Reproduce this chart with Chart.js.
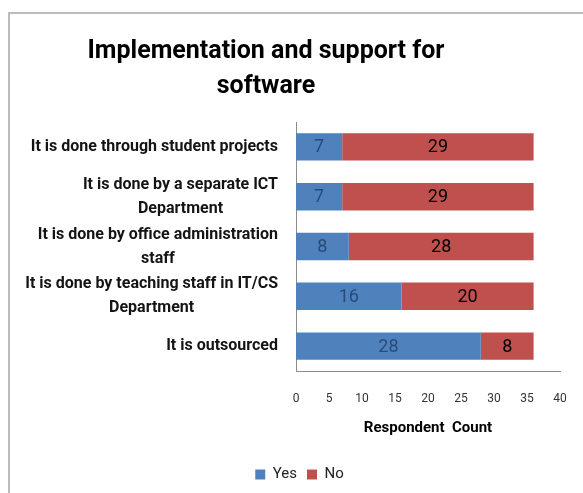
<!DOCTYPE html>
<html>
<head>
<meta charset="utf-8">
<script src="https://cdn.jsdelivr.net/npm/chart.js@4/dist/chart.umd.min.js"></script>
<style>
  html, body { margin: 0; padding: 0; background: #fff; overflow: hidden; }
  #wrap { width: 583px; height: 493px; }
</style>
</head>
<body>
<div id="wrap"><canvas id="supportChart" width="583" height="493"></canvas></div>
<script>
var categories = [
  "It is done through student projects",
  ["It is done by a separate ICT", "Department"],
  ["It is done by office administration", "staff"],
  ["It is done by teaching staff in IT/CS", "Department"],
  "It is outsourced"
];
var yesValues = [7, 7, 8, 16, 28];
var noValues = [29, 29, 28, 20, 8];
var xTicks = [0, 5, 10, 15, 20, 25, 30, 35, 40];

var FONT = "Roboto, sans-serif";

// cadre gris autour du graphique
var framePlugin = {
  id: "frame",
  beforeDraw: function (chart) {
    var c = chart.ctx;
    c.save();
    c.strokeStyle = "#bcbcbc";
    c.lineWidth = 2;
    c.strokeRect(9, 13, 800, 800);
    c.restore();
  }
};

// recentrer titre et légende comme dans l'original
var shiftPlugin = {
  id: "shift",
  afterLayout: function (chart) {
    if (chart.titleBlock) {
      chart.titleBlock.left = 0;
      chart.titleBlock.right = 532;
    }
    if (chart.legend) {
      chart.legend.left = 16;
      chart.legend.right = 583;
    }
  }
};

// libellés des catégories : alignés à droite, lignes centrées entre elles
var categoryLabels = {
  id: "categoryLabels",
  afterDraw: function (chart) {
    var c = chart.ctx;
    var yScale = chart.scales.y;
    var right = yScale.right - 18;
    c.save();
    c.font = "bold 16px " + FONT;
    c.fillStyle = "#141414";
    c.textAlign = "center";
    c.textBaseline = "middle";
    chart.data.labels.forEach(function (lab, i) {
      var lines = Array.isArray(lab) ? lab : [lab];
      var widest = 0;
      lines.forEach(function (l) { widest = Math.max(widest, c.measureText(l).width); });
      var cy = yScale.getPixelForTick(i);
      var y0 = cy - (lines.length - 1) * 12;
      lines.forEach(function (l, k) {
        c.fillText(l, right - widest / 2, y0 + k * 24);
      });
    });
    c.restore();
  }
};

// valeurs au centre de chaque segment
var labelPlugin = {
  id: "barValues",
  afterDatasetsDraw: function (chart) {
    var c = chart.ctx;
    c.save();
    c.font = "18px " + FONT;
    c.textAlign = "center";
    c.textBaseline = "middle";
    chart.data.datasets.forEach(function (ds, i) {
      var meta = chart.getDatasetMeta(i);
      c.fillStyle = i === 0 ? "#284b78" : "#000000";
      meta.data.forEach(function (bar, j) {
        c.fillText(String(ds.data[j]), (bar.x + bar.base) / 2, bar.y + 1);
      });
    });
    c.restore();
  }
};

var ctx = document.getElementById("supportChart").getContext("2d");
var supportChart = new Chart(ctx, {
  type: "bar",
  data: {
    labels: categories,
    datasets: [
      { label: "Yes", data: yesValues, backgroundColor: "#4f81bd" },
      { label: "No", data: noValues, backgroundColor: "#c0504d" }
    ]
  },
  options: {
    indexAxis: "y",
    responsive: false,
    animation: false,
    devicePixelRatio: 1,
    layout: { padding: { left: 0, right: 23, top: 0, bottom: 1 } },
    datasets: { bar: { barPercentage: 0.55, categoryPercentage: 1 } },
    plugins: {
      title: {
        display: true,
        text: ["Implementation and support for", "software"],
        color: "#000",
        font: { family: FONT, size: 25, weight: "bold", lineHeight: 1.4 },
        padding: { top: 34, bottom: 18 }
      },
      legend: {
        display: true,
        position: "bottom",
        labels: {
          color: "#222",
          font: { family: FONT, size: 15 },
          boxWidth: 10,
          boxHeight: 10,
          padding: 10
        }
      },
      tooltip: { enabled: false }
    },
    scales: {
      x: {
        stacked: true,
        min: 0,
        max: 40,
        afterBuildTicks: function (axis) {
          axis.ticks = xTicks.map(function (v) { return { value: v }; });
        },
        afterFit: function (axis) { axis.height = 86; },
        grid: { display: false, drawTicks: true, tickLength: 11 },
        border: { display: true, color: "#8c8c8c", width: 1 },
        ticks: {
          color: "#333",
          padding: 10,
          font: { family: FONT, size: 12 }
        },
        title: {
          display: true,
          text: "Respondent  Count",
          color: "#000",
          font: { family: FONT, size: 15, weight: "bold" },
          padding: { top: 13, bottom: 20 }
        }
      },
      y: {
        stacked: true,
        grid: { display: false, drawTicks: false },
        border: { display: true, color: "#8c8c8c", width: 1 },
        afterFit: function (axis) { axis.width = 296; },
        ticks: { display: false, autoSkip: false }
      }
    }
  },
  plugins: [framePlugin, shiftPlugin, categoryLabels, labelPlugin]
});
</script>
</body>
</html>
